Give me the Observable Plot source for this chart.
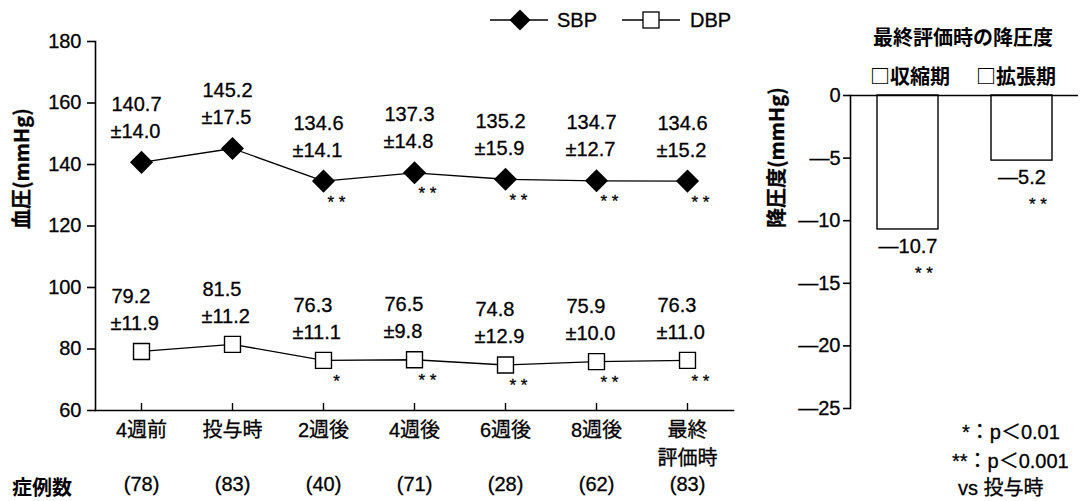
<!DOCTYPE html>
<html><head><meta charset="utf-8">
<script src="https://cdn.jsdelivr.net/npm/d3@7"></script>
<script src="https://cdn.jsdelivr.net/npm/@observablehq/plot@0.6"></script>
<style>
body{margin:0;background:#fff;}
#wrap{position:relative;width:1081px;height:501px;overflow:hidden;font-family:"Liberation Sans","Noto Sans CJK JP",sans-serif;color:#000;}
.abs{position:absolute;white-space:nowrap;line-height:1.2;-webkit-text-stroke:0.3px #000;}
.jp{font-family:"Noto Sans CJK JP",sans-serif;font-weight:bold;-webkit-text-stroke:0;}
#left{position:absolute;left:0;top:0;}
#right{position:absolute;left:760px;top:0;}
#wrap svg text{stroke:#000;stroke-width:0.3px;}
</style></head><body><div id="wrap"><div id="left"></div><div id="right"></div></div>
<script>
// ---- data ----
const periods = ["4週前","投与時","2週後","4週後","6週後","8週後","最終\n評価時"];
const sbpMean = [140.7,145.2,134.6,137.3,135.2,134.7,134.6];
const sbpSD = [14.0,17.5,14.1,14.8,15.9,12.7,15.2];
const sbpSig = ["","","* *","* *","* *","* *","* *"];
const dbpMean = [79.2,81.5,76.3,76.5,74.8,75.9,76.3];
const dbpSD = [11.9,11.2,11.1,9.8,12.9,10.0,11.0];
const dbpSig = ["","","*","* *","* *","* *","* *"];
const caseCounts = [78,83,40,71,28,62,83];
const yTicksLeft = [60,80,100,120,140,160,180];
const phases = ["収縮期","拡張期"];
const reduction = [-10.7,-5.2];
const reductionSig = ["* *","* *"];
const yTicksRight = [0,-5,-10,-15,-20,-25];

const FONT = '"Liberation Sans","Noto Sans CJK JP",sans-serif';
const JP = '"Noto Sans CJK JP",sans-serif';
const sbp = periods.map((p,i)=>({period:p, mean:sbpMean[i], sd:sbpSD[i], sig:sbpSig[i]}));
const dbp = periods.map((p,i)=>({period:p, mean:dbpMean[i], sd:dbpSD[i], sig:dbpSig[i]}));
const red = phases.map((p,i)=>({phase:p, value:reduction[i], sig:reductionSig[i]}));
// long (full-width style) minus as printed in the source
const neg = v => v < 0 ? "\u2014" + Math.abs(v) : String(v);

function seriesMarks(data, sym, fill, r, dyV, dyS) {
  return [
    Plot.line(data, {x:"period", y:"mean", stroke:"black", strokeWidth:1.3}),
    Plot.dot(data, {x:"period", y:"mean", symbol:sym, r, fill, stroke:"black", strokeWidth:1.4}),
    Plot.text(data, {x:"period", y:"mean", text:d=>d.mean.toFixed(1), textAnchor:"start", dx:-30, dy:dyV, fontSize:20}),
    Plot.text(data, {x:"period", y:"mean", text:d=>"±"+d.sd.toFixed(1), textAnchor:"start", dx:-31, dy:dyS, fontSize:20}),
    Plot.text(data, {x:"period", y:"mean", text:"sig", dx:13, dy:21, fontSize:17})
  ];
}

const left = Plot.plot({
  width: 760, height: 501,
  marginLeft: 95, marginRight: 27, marginTop: 41, marginBottom: 91,
  style: {fontFamily: FONT, fontSize: "20px", color: "#000", background: "transparent"},
  x: {type: "point", domain: periods, padding: 0.5},
  y: {domain: [60, 180]},
  marks: [
    Plot.frame({anchor: "left", strokeWidth: 1.6}),
    Plot.frame({anchor: "bottom", strokeWidth: 1.6}),
    Plot.axisY({ticks: yTicksLeft, tickSize: 8, tickPadding: 6, strokeWidth: 1.6, fontSize: 20, label: null}),
    Plot.axisX({tickSize: 0, tickPadding: 6, fontSize: 20, lineHeight: 1.42, label: null, tickFormat: d => d}),
    Plot.ruleX(periods, {x: d => d, insetTop: 362, strokeWidth: 1.4}),
    ...seriesMarks(sbp, "diamond2", "black", 9.5, -58, -31),
    ...seriesMarks(dbp, "square", "white", 9, -55, -28),
    Plot.text(periods, {x: d => d, text: (d,i) => `(${caseCounts[i]})`, frameAnchor: "bottom", dy: 80, fontSize: 20}),
    Plot.text(["血圧(mmHg)"], {frameAnchor: "left", dx: -73, dy: 3, rotate: -90, fontSize: 20, fontFamily: JP, fontWeight: "bold"})
  ]
});
document.getElementById("left").appendChild(left);

const right = Plot.plot({
  width: 321, height: 501,
  marginLeft: 90, marginRight: 3, marginTop: 95, marginBottom: 93,
  style: {fontFamily: FONT, fontSize: "20px", color: "#000", background: "transparent"},
  x: {domain: phases, paddingInner: 0.465, paddingOuter: 0.2325, axis: null},
  y: {domain: [-25, 0]},
  marks: [
    Plot.frame({anchor: "left", strokeWidth: 1.6}),
    Plot.axisY({ticks: yTicksRight, tickSize: 7, tickPadding: 3, strokeWidth: 1.6, fontSize: 20, label: null, tickFormat: neg}),
    Plot.barY(red, {x: "phase", y: "value", fill: "white", stroke: "black", strokeWidth: 1.4}),
    Plot.ruleY([0], {strokeWidth: 1.6}),
    Plot.text(red, {x: "phase", y: "value", text: d => neg(d.value), dy: 17, fontSize: 20}),
    Plot.text(red, {x: "phase", y: "value", text: "sig", dx: 16, dy: 44, fontSize: 17}),
    Plot.text(["降圧度(mmHg)"], {frameAnchor: "left", dx: -73, dy: -24, rotate: -90, fontSize: 20, fontFamily: JP, fontWeight: "bold"})
  ]
});
document.getElementById("right").appendChild(right);

// ---- HTML text: legends, titles, notes ----
const wrap = document.getElementById("wrap");
function addText(txt, x, y, size, anchor, cls) {
  const d = document.createElement("div");
  d.className = "abs" + (cls ? " " + cls : "");
  d.textContent = txt;
  d.style.left = x + "px";
  d.style.top = y + "px";
  d.style.fontSize = size + "px";
  d.style.transform = anchor === "middle" ? "translate(-50%,-50%)" : "translate(0,-50%)";
  wrap.appendChild(d);
}
addText("症例数", 12, 487, 20, null, "jp");
addText("最終評価時の降圧度", 963, 37, 20, "middle", "jp");
addText("□" + phases[0], 870, 76, 20, null, "jp");
addText("□" + phases[1], 976, 76, 20, null, "jp");
addText("*：p＜0.01", 962, 432, 20);
addText("**：p＜0.001", 952, 461, 20);
addText("vs 投与時", 958, 488, 20);

// top legend
const ns = "http://www.w3.org/2000/svg";
const lg = document.createElementNS(ns, "svg");
lg.setAttribute("width", 260); lg.setAttribute("height", 40);
lg.style.position = "absolute"; lg.style.left = "480px"; lg.style.top = "0px";
lg.innerHTML = `
<line x1="10" x2="68" y1="20" y2="20" stroke="black" stroke-width="1.3"/>
<path d="M40,9.5 L50.5,20 L40,30.5 L29.5,20 Z" fill="black"/>
<text x="77" y="20" dy="0.35em" font-size="20" font-family='${FONT}'>SBP</text>
<line x1="142" x2="200" y1="20" y2="20" stroke="black" stroke-width="1.3"/>
<rect x="163" y="12" width="16" height="16" fill="white" stroke="black" stroke-width="1.3"/>
<text x="210" y="20" dy="0.35em" font-size="20" font-family='${FONT}'>DBP</text>`;
wrap.appendChild(lg);
</script>
</body></html>
